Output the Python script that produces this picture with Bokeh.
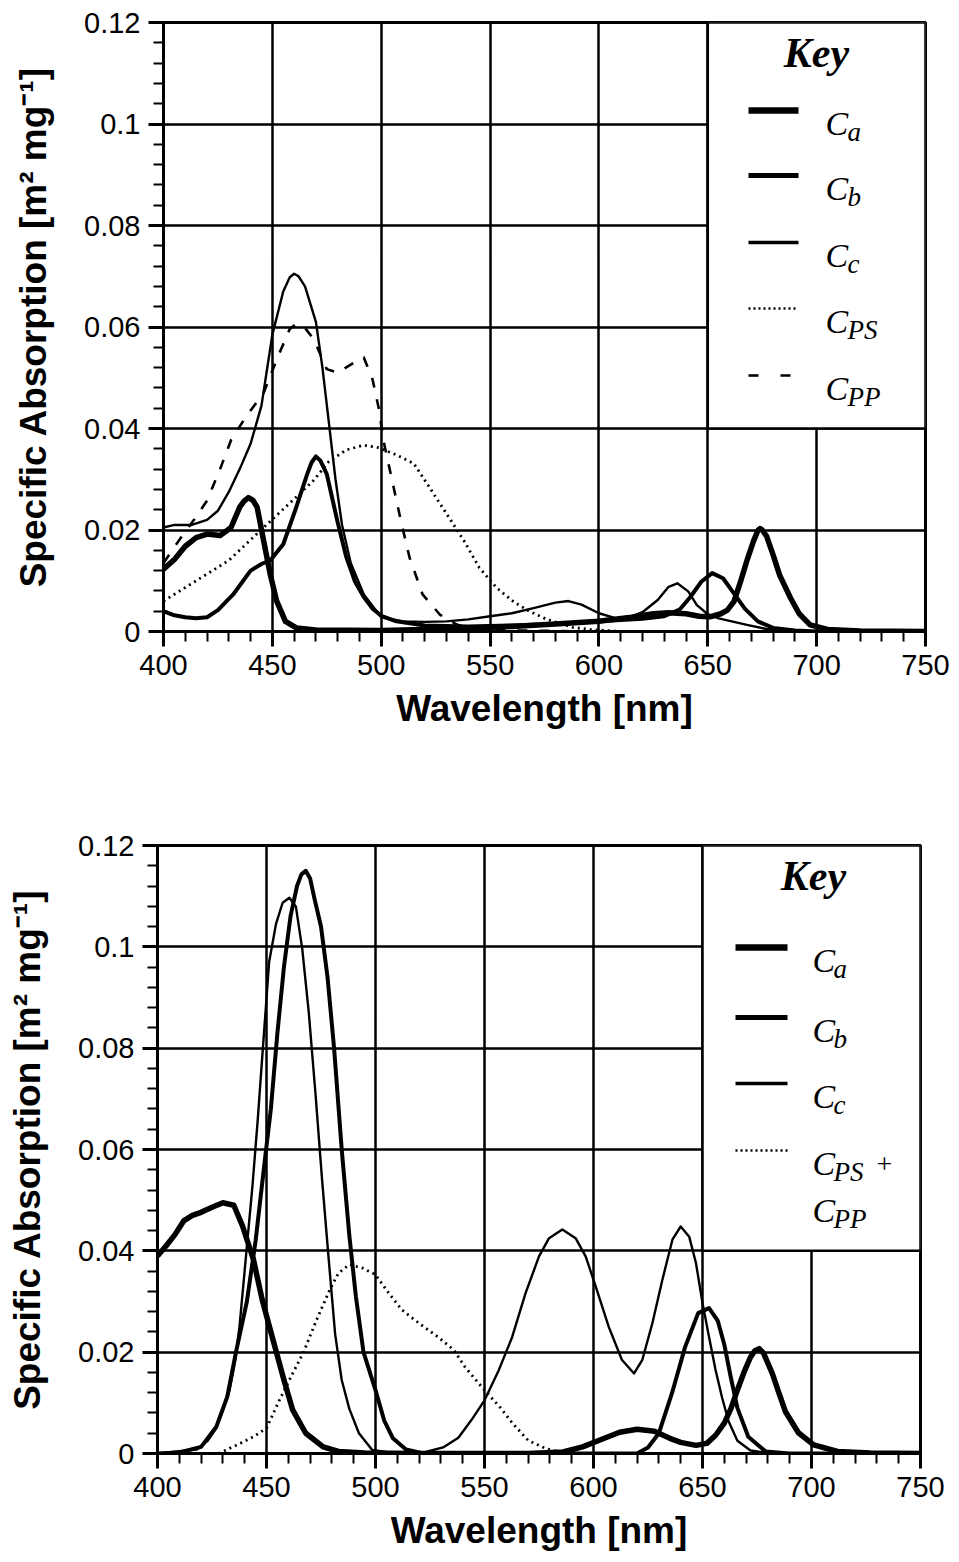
from bokeh.plotting import figure
from bokeh.layouts import column, row
from bokeh.models import Range1d, FixedTicker, BoxAnnotation, Label, Arrow
from bokeh.embed import file_html
from bokeh.resources import INLINE

# ---------------------------------------------------------------- axes
x_ticks = [400, 450, 500, 550, 600, 650, 700, 750]
x_minor = [v for v in range(400, 751, 10) if v % 50]
y_ticks = [0, 0.02, 0.04, 0.06, 0.08, 0.1, 0.12]
y_tick_labels = ["0", "0.02", "0.04", "0.06", "0.08", "0.1", "0.12"]
y_minor = [round(0.004 * i, 3) for i in range(31) if i % 5]

# ---------------------------------------------------------------- upper panel spectra
top_wl_a = [400, 405, 410, 415, 420, 426, 431, 435, 437, 439, 441, 443, 446, 449, 452, 456,
            461, 470, 500, 530, 560, 580, 600, 615, 625, 632, 640, 646, 651, 656, 659, 662,
            665, 668, 671, 673, 674, 675, 677, 680, 683, 688, 692, 697, 705, 720, 750]
top_ca = [0.0123, 0.0142, 0.0168, 0.0185, 0.0192, 0.0189, 0.0205, 0.0245, 0.0257, 0.0264,
          0.0259, 0.0245, 0.0179, 0.0113, 0.0060, 0.0020, 0.0007, 0.0003, 0.0002, 0.0005,
          0.0010, 0.0015, 0.0020, 0.0028, 0.0035, 0.0037, 0.0035, 0.0030, 0.0029, 0.0035,
          0.0042, 0.0059, 0.0098, 0.0140, 0.0178, 0.0199, 0.0203, 0.0200, 0.0188, 0.0151,
          0.0111, 0.0066, 0.0035, 0.0013, 0.0004, 0.0001, 0.0]

top_wl_b = [400, 405, 410, 415, 420, 425, 432, 440, 445, 449, 455, 461, 466, 468, 470, 472,
            475, 480, 484, 488, 492, 496, 500, 507, 520, 540, 560, 580, 600, 620, 630, 637,
            642, 647, 652, 657, 662, 667, 673, 680, 690, 700, 750]
top_cb = [0.0040, 0.0032, 0.0028, 0.0026, 0.0028, 0.0042, 0.0073, 0.0120, 0.0133, 0.0140,
          0.0172, 0.0245, 0.0310, 0.0333, 0.0345, 0.0337, 0.0310, 0.0215, 0.0146, 0.0098,
          0.0068, 0.0045, 0.0031, 0.0020, 0.0012, 0.0010, 0.0012, 0.0015, 0.0020, 0.0025,
          0.0030, 0.0043, 0.0068, 0.0098, 0.0115, 0.0105, 0.0075, 0.0045, 0.0020, 0.0007,
          0.0002, 0.0, 0.0]

top_wl_c = [400, 405, 413, 420, 425, 430, 435, 440, 445, 450, 455, 458, 460, 462, 465, 470,
            473, 476, 479, 482, 486, 492, 500, 510, 520, 530, 540, 550, 560, 570, 580, 586,
            592, 600, 608, 615, 620, 627, 632, 636, 641, 645, 650, 655, 660, 668, 677, 690,
            750]
top_cc = [0.0205, 0.0210, 0.0210, 0.0220, 0.0238, 0.0275, 0.0320, 0.0370, 0.0445, 0.0585,
          0.0670, 0.0698, 0.0705, 0.0700, 0.0680, 0.0610, 0.0520, 0.0410, 0.0300, 0.0210,
          0.0135, 0.0073, 0.0028, 0.0020, 0.0019, 0.0020, 0.0024, 0.0030, 0.0036, 0.0046,
          0.0057, 0.0060, 0.0053, 0.0036, 0.0026, 0.0030, 0.0038, 0.0062, 0.0088, 0.0095,
          0.0079, 0.0052, 0.0034, 0.0026, 0.0021, 0.0013, 0.0005, 0.0001, 0.0]

top_wl_ps = [400, 415, 430, 446, 461, 469, 476, 484, 492, 499, 507, 515, 522, 530, 538, 545,
             553, 561, 568, 576, 588, 596, 610]
top_cps = [0.0060, 0.0100, 0.0140, 0.0205, 0.0265, 0.0298, 0.0335, 0.0358, 0.0367, 0.0362,
           0.0348, 0.0331, 0.0285, 0.0232, 0.0179, 0.0126, 0.0086, 0.0058, 0.0040, 0.0024,
           0.0008, 0.0004, 0.0]

top_wl_pp = [400, 404, 408, 414, 420, 426, 431, 438, 446, 452, 458, 461, 465, 469, 475, 480,
             486, 492, 496, 499, 501, 505, 509, 513, 519, 527, 535, 545, 560, 600]
top_cpp = [0.0135, 0.0160, 0.0185, 0.0220, 0.0258, 0.0320, 0.0377, 0.0424, 0.0470, 0.0536,
           0.0596, 0.0606, 0.0598, 0.0576, 0.0517, 0.0510, 0.0526, 0.0540, 0.0497, 0.0437,
           0.0377, 0.0298, 0.0219, 0.0146, 0.0073, 0.0033, 0.0013, 0.0005, 0.0002, 0.0]

# ---------------------------------------------------------------- lower panel spectra
bot_wl_a = [400, 404, 408, 412, 416, 420, 425, 430, 435, 439, 444, 448, 453, 458, 462, 468,
            476, 483, 495, 520, 570, 586, 595, 605, 612, 620, 628, 635, 640, 647, 652, 656,
            660, 663, 666, 669, 672, 674, 676, 678, 682, 685, 688, 694, 701, 712, 727, 750]
bot_ca = [0.0390, 0.0410, 0.0432, 0.0459, 0.0470, 0.0476, 0.0486, 0.0495, 0.0490, 0.0449,
          0.0383, 0.0304, 0.0224, 0.0145, 0.0086, 0.0040, 0.0013, 0.0004, 0.0001, 0.0,
          0.0, 0.0003, 0.0013, 0.0030, 0.0042, 0.0048, 0.0044, 0.0030, 0.0022, 0.0016,
          0.0020, 0.0036, 0.0060, 0.0088, 0.0125, 0.0160, 0.0190, 0.0203, 0.0207, 0.0198,
          0.0158, 0.0120, 0.0083, 0.0041, 0.0017, 0.0004, 0.0001, 0.0]

bot_wl_b = [400, 410, 420, 427, 432, 436, 441, 445, 449, 452, 455, 458, 461, 464, 466, 468,
            470, 472, 475, 478, 481, 484.5, 488, 491, 494.5, 500, 504, 508, 514, 522, 600,
            620, 625, 630, 636, 642, 648, 653, 657, 660, 663, 666, 671, 679, 690, 750]
bot_cb = [0.0, 0.0002, 0.0013, 0.0053, 0.0112, 0.0200, 0.0300, 0.0420, 0.0570, 0.0680,
          0.0830, 0.0960, 0.1060, 0.1120, 0.1143, 0.1150, 0.1135, 0.1095, 0.1040, 0.0940,
          0.0800, 0.0600, 0.0430, 0.0310, 0.0200, 0.0125, 0.0065, 0.0030, 0.0008, 0.0,
          0.0, 0.0, 0.0012, 0.0040, 0.0119, 0.0210, 0.0277, 0.0287, 0.0262, 0.0215,
          0.0150, 0.0090, 0.0033, 0.0004, 0.0, 0.0]

bot_wl_c = [400, 418, 423, 427, 430, 433, 435.5, 437.6, 440.6, 443.6, 446, 448, 449.7, 451.2,
            454.4, 457.4, 460.5, 463.5, 466.4, 469.4, 472.4, 475.5, 478.5, 481.5, 484.5, 488,
            492.4, 498.5, 505, 515, 523, 531, 538, 544, 550, 556.6, 562.7, 568.8, 575, 579.6,
            585.7, 591.8, 596.4, 601, 607, 613, 618.6, 622.4, 627, 631.6, 636.2, 640, 643.9,
            647, 650, 653, 656, 659, 662, 666, 672, 680, 750]
bot_cc = [0.0, 0.0008, 0.0025, 0.0050, 0.0085, 0.0124, 0.0180, 0.0250, 0.0390, 0.0530,
          0.0660, 0.0780, 0.0880, 0.0970, 0.1046, 0.1087, 0.1097, 0.1079, 0.0996, 0.0870,
          0.0714, 0.0540, 0.0385, 0.0235, 0.0145, 0.0088, 0.0040, 0.0007, 0.0003, 0.0002,
          0.0003, 0.0012, 0.0031, 0.0066, 0.0105, 0.0165, 0.0230, 0.0316, 0.0389, 0.0425,
          0.0442, 0.0425, 0.0389, 0.0330, 0.0250, 0.0185, 0.0158, 0.0185, 0.0257, 0.0343,
          0.0422, 0.0448, 0.0428, 0.0376, 0.0297, 0.0230, 0.0165, 0.0110, 0.0063, 0.0025,
          0.0006, 0.0001, 0.0]

bot_wl_p = [428, 432, 438, 444, 450, 456, 462, 467, 473, 479, 483, 488, 494, 500, 506, 512,
            520, 529, 536, 541, 550, 557, 563, 570, 578, 585]
bot_cp = [0.0, 0.0008, 0.0020, 0.0033, 0.0050, 0.0106, 0.0158, 0.0200, 0.0264, 0.0323,
          0.0356, 0.0373, 0.0366, 0.0353, 0.0317, 0.0284, 0.0257, 0.0229, 0.0204, 0.0171,
          0.0125, 0.0092, 0.0059, 0.0026, 0.0010, 0.0002]

# ---------------------------------------------------------------- styling
SANS = "Liberation Sans"
SERIF = "Liberation Serif"

CURVE_STYLE = {
    "a": dict(line_width=5.5),
    "b": dict(line_width=4.0),
    "c": dict(line_width=2.4),
    "ps": dict(line_width=2.8, line_dash="2 4"),
    "pp": dict(line_width=2.6, line_dash="10 12"),
}
KEY_STYLE = {
    "a": dict(line_width=6.5),
    "b": dict(line_width=5.0),
    "c": dict(line_width=3.5),
    "ps": dict(line_width=2.6, line_dash="2 3"),
    "pp": dict(line_width=2.6, line_dash="10 22"),
}


def make_panel(series, key, border):
    left, right, top, bottom = border
    p = figure(width=959, height=781, x_range=Range1d(400, 750), y_range=Range1d(0, 0.12),
               output_backend="svg", toolbar_location=None,
               min_border_left=left, min_border_right=right,
               min_border_top=top, min_border_bottom=bottom,
               background_fill_color="white", border_fill_color="white")
    p.outline_line_color = "black"
    p.outline_line_width = 3
    p.outline_line_alpha = 1

    p.xgrid.ticker = FixedTicker(ticks=x_ticks)
    p.ygrid.ticker = FixedTicker(ticks=y_ticks)
    for g in (p.xgrid[0], p.ygrid[0]):
        g.grid_line_color = "black"
        g.grid_line_width = 2.5
        g.grid_line_alpha = 1

    p.xaxis.ticker = FixedTicker(ticks=x_ticks, minor_ticks=x_minor)
    p.yaxis.ticker = FixedTicker(ticks=y_ticks, minor_ticks=y_minor)
    p.yaxis.major_label_overrides = dict(zip(y_ticks, y_tick_labels))
    p.xaxis.axis_label = "Wavelength [nm]"
    p.yaxis.axis_label = "Specific Absorption [m\u00b2 mg\u207b\u00b9]"
    for ax in (p.xaxis[0], p.yaxis[0]):
        ax.axis_line_width = 3
        ax.axis_line_color = "black"
        ax.major_tick_line_width = 3
        ax.minor_tick_line_width = 2
        ax.major_tick_line_color = "black"
        ax.minor_tick_line_color = "black"
        ax.major_tick_in = 0
        ax.major_tick_out = 15
        ax.minor_tick_in = 0
        ax.minor_tick_out = 10
        ax.major_label_text_font = SANS
        ax.major_label_text_font_size = "29px"
        ax.major_label_text_color = "black"
        ax.major_label_standoff = 8
        ax.axis_label_text_font = SANS
        ax.axis_label_text_font_style = "bold"
        ax.axis_label_text_font_size = "37px"
        ax.axis_label_text_color = "black"
    p.xaxis.axis_label_standoff = 10
    p.yaxis.axis_label_standoff = 27

    for name, (wl, vals) in series.items():
        p.line(wl, vals, line_color="black", line_join="round", **CURVE_STYLE[name])

    # key box masks the grid in the upper-right corner
    p.add_layout(BoxAnnotation(left=650, bottom=0.04, fill_color="white", fill_alpha=1,
                               line_color="black", line_width=2.5, line_alpha=1))

    fh = 781 - top - bottom  # frame height, screen y counts up from the frame bottom
    p.add_layout(Label(x=key["key_x"], y=fh - key["key_y"], x_units="screen", y_units="screen",
                       text="Key", text_font=SERIF, text_font_style="bold italic",
                       text_font_size="42px", text_align="center", text_baseline="middle",
                       text_color="black"))
    for row_y, name, sub, extra in key["rows"]:
        if name is not None:
            p.add_layout(Arrow(start=None, end=None, x_start=key["line_x0"], x_end=key["line_x1"],
                               y_start=fh - row_y, y_end=fh - row_y,
                               start_units="screen", end_units="screen",
                               line_color="black", **KEY_STYLE[name]))
        p.add_layout(Label(x=key["text_x"], y=fh - row_y - 13, x_units="screen", y_units="screen",
                           text="C", text_font=SERIF, text_font_style="italic",
                           text_font_size="34px", text_align="left", text_baseline="alphabetic",
                           text_color="black"))
        p.add_layout(Label(x=key["text_x"] + key["sub_dx"], y=fh - row_y - 21,
                           x_units="screen", y_units="screen",
                           text=sub, text_font=SERIF, text_font_style="italic",
                           text_font_size="27px", text_align="left", text_baseline="alphabetic",
                           text_color="black"))
        if extra:
            p.add_layout(Label(x=key["plus_x"], y=fh - row_y - 13, x_units="screen",
                               y_units="screen", text=extra, text_font=SERIF,
                               text_font_size="28px", text_align="left",
                               text_baseline="alphabetic", text_color="black"))
    return p


top_series = {
    "a": (top_wl_a, top_ca),
    "b": (top_wl_b, top_cb),
    "c": (top_wl_c, top_cc),
    "ps": (top_wl_ps, top_cps),
    "pp": (top_wl_pp, top_cpp),
}
bot_series = {
    "a": (bot_wl_a, bot_ca),
    "b": (bot_wl_b, bot_cb),
    "c": (bot_wl_c, bot_cc),
    "ps": (bot_wl_p, bot_cp),
}

top_key = dict(key_x=653, key_y=30, line_x0=585, line_x1=635, text_x=662, sub_dx=22,
               rows=[(88, "a", "a", None), (153, "b", "b", None), (220, "c", "c", None),
                     (286, "ps", "PS", None), (353, "pp", "PP", None)])
bot_key = dict(key_x=656, key_y=30, line_x0=578, line_x1=630, text_x=655, sub_dx=21,
               plus_x=719,
               rows=[(102, "a", "a", None), (172, "b", "b", None), (238, "c", "c", None),
                     (305, "ps", "PS", "+"), (352, None, "PP", None)])

p_top = make_panel(top_series, top_key, (163, 34, 22, 150))
p_bot = make_panel(bot_series, bot_key, (157, 39, 64, 109))

# each panel sits in its own row so the two frames keep their own borders
layout = column(row(p_top), row(p_bot), spacing=0)
open("out.html", "w").write(file_html(layout, INLINE))
